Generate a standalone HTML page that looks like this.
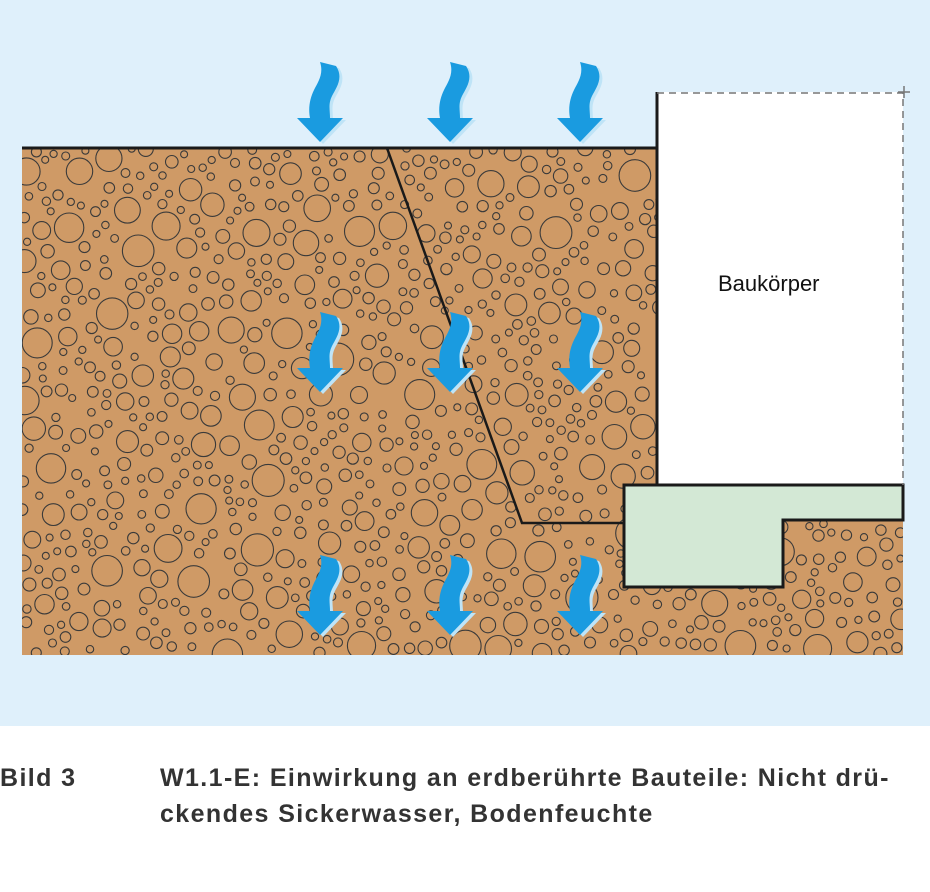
<!DOCTYPE html>
<html><head><meta charset="utf-8"><style>
html,body{margin:0;padding:0;background:#fff;width:930px;height:892px;overflow:hidden}
#bg{position:absolute;left:0;top:0;width:930px;height:726px;background:#dff0fb}
svg{position:absolute;left:0;top:0}
.cap{position:absolute;font-family:"Liberation Sans",sans-serif;font-weight:bold;font-size:25px;letter-spacing:1.4px;color:#333;line-height:36px}
</style></head><body>
<div id="bg"></div>
<svg width="930" height="726" viewBox="0 0 930 726">
<defs>
<clipPath id="soil2"><path d="M22,148 H657 V485 H624 V587 H783 V520 H903 V655 H22 Z"/></clipPath>
<g id="ar">
<path transform="translate(3,2)" fill="#bfe4f7" d="M22,0 L38,4 C46,16 38,26 34,34 C30,42 32,48 32,56 L45,56 L22,80 L-1,56 L12,56 C10,46 12,36 16,28 C20,20 26,12 22,0 Z"/>
<path fill="#1a9be0" d="M22,0 L38,4 C46,16 38,26 34,34 C30,42 32,48 32,56 L45,56 L22,80 L-1,56 L12,56 C10,46 12,36 16,28 C20,20 26,12 22,0 Z"/>
</g>
</defs>
<rect x="657" y="92" width="246" height="393" fill="#fff"/>
<path d="M22,148 H657 V485 H624 V587 H783 V520 H903 V655 H22 Z" fill="#cf9a66"/>
<g id="circ" clip-path="url(#soil2)" fill="none" stroke="#3a3a3a" stroke-width="1.1"></g>
<path d="M624,485 H903 V520 H783 V587 H624 Z" fill="#d3e8d5" stroke="#1a1a1a" stroke-width="3"/>
<path d="M22,148 H657 M657,92 V485" stroke="#1a1a1a" stroke-width="3" fill="none"/>
<path d="M387,148 L522,523 H624" stroke="#1a1a1a" stroke-width="2.5" fill="none"/>
<path d="M657,93 H903 V485" stroke="#777" stroke-width="1.5" stroke-dasharray="7,5" fill="none"/>
<path d="M898,92 H910 M904,86 V98" stroke="#777" stroke-width="1.5"/>
<text x="718" y="291" font-family="Liberation Sans,sans-serif" font-size="22" fill="#111">Baukörper</text>
<use href="#ar" x="298" y="62"/><use href="#ar" x="428" y="62"/><use href="#ar" x="558" y="62"/>
<use href="#ar" x="298" y="312"/><use href="#ar" x="428" y="312"/><use href="#ar" x="558" y="312"/>
<use href="#ar" x="298" y="555"/><use href="#ar" x="428" y="555"/><use href="#ar" x="558" y="555"/>
</svg>
<div class="cap" style="left:0;top:760px">Bild 3</div>
<div class="cap" style="left:160px;top:760px">W1.1-E: Einwirkung an erdberührte Bauteile: Nicht drü-<br>ckendes Sickerwasser, Bodenfeuchte</div>
<script>
var g=document.getElementById('circ'),s=12345;
function r(){s=(s*16807)%2147483647;return s/2147483647;}
var ns='http://www.w3.org/2000/svg',placed=[];
for(var i=0;i<9000&&placed.length<1050;i++){
 var x=22+r()*881,y=148+r()*507,rad=3.5+Math.pow(r(),1.8)*13;
 var ok=true;
 for(var j=0;j<placed.length;j++){var p=placed[j],dx=p[0]-x,dy=p[1]-y;if(dx*dx+dy*dy<(p[2]+rad+3)*(p[2]+rad+3)){ok=false;break;}}
 if(!ok)continue;placed.push([x,y,rad]);
 var c=document.createElementNS(ns,'circle');c.setAttribute('cx',x.toFixed(1));c.setAttribute('cy',y.toFixed(1));c.setAttribute('r',rad.toFixed(1));g.appendChild(c);
}
</script>
</body></html>
